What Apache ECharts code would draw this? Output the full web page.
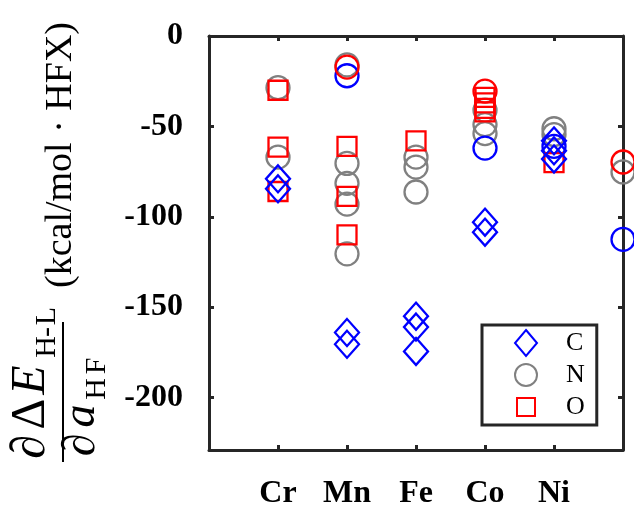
<!DOCTYPE html>
<html><head><meta charset="utf-8">
<script src="https://cdn.jsdelivr.net/npm/echarts@6/dist/echarts.min.js"></script>
<style>html,body{margin:0;padding:0;background:#fff}#c{width:634px;height:506px}</style>
</head><body><div id="c"></div>
<script>
// ---- data ----
const categories = ['Cr', 'Mn', 'Fe', 'Co', 'Ni'];
const yTicks = [0, -50, -100, -150, -200];
// [category position, value]; position 6 is the (unlabelled) right edge
const cDiamond = [[1,-79],[1,-84.5],[2,-164],[2,-170.5],[3,-155],[3,-161],[3,-174.5],[4,-103],[4,-108.5],[5,-58],[5,-63.5],[5,-68]];
const cCircle  = [[2,-22],[4,-62],[5,-61],[6,-112.5]];
const nCircle  = [[1,-28.6],[1,-67],[2,-16],[2,-70.5],[2,-81.5],[2,-93],[2,-120.5],[3,-67],[3,-72.5],[3,-86.3],[4,-41],[4,-49],[4,-54],[5,-51.3],[5,-54.5],[6,-75.2]];
const oSquare  = [[1,-30],[1,-61.5],[1,-86],[2,-61],[2,-88.7],[2,-110],[3,-58],[4,-34],[4,-37],[4,-40],[4,-42],[5,-70]];
const oCircle  = [[2,-17.2],[4,-30.5],[6,-69.7]];

const BLUE = '#0000ff', GRAY = '#808080', RED = '#ff0000', AX = '#262626';
const SERIF = '"Liberation Serif", "Times New Roman", serif';
const LW = 2.3;

function sc(name, data, symbol, size, color, z) {
  return { name, type: 'scatter', data, symbol, symbolSize: size, clip: false, z: z,
    itemStyle: { color: 'rgba(0,0,0,0)', borderColor: color, borderWidth: LW, opacity: 1 },
    emphasis: { disabled: true } };
}

const chart = echarts.init(document.getElementById('c'));
const axisCommon = {
  axisLine: { show: true, onZero: false, lineStyle: { color: AX, width: 3 } },
  axisTick: { show: true, inside: true, length: 5, lineStyle: { color: AX, width: 3 } },
  splitLine: { show: false }
};
function withTicks(base, vals) {
  return Object.assign(base, axisCommon, { axisTick: Object.assign({}, axisCommon.axisTick, { customValues: vals }) });
}
const xPos = [1, 2, 3, 4, 5];

// glyph helper for the y-axis title (rotated, reading bottom to top)
function glyph(t, x, y, size, italic) {
  return { type: 'text', x: x, y: y, rotation: Math.PI / 2,
    style: { text: t, align: 'center', verticalAlign: 'middle', fill: '#000', fontFamily: SERIF,
      fontSize: size, fontStyle: italic ? 'italic' : 'normal' } };
}

chart.setOption({
  animation: false,
  backgroundColor: '#fff',
  grid: { left: 209, right: 11, top: 36, bottom: 56, containLabel: false, outerBoundsMode: 'none' },
  xAxis: [
    withTicks({ type: 'value', min: 0, max: 6, interval: 1, position: 'bottom',
      axisLabel: { margin: 28, fontFamily: SERIF, fontWeight: 'bold', fontSize: 32, color: '#000',
        customValues: xPos, formatter: v => categories[v - 1] || '' } }, xPos),
    withTicks({ type: 'value', min: 0, max: 6, interval: 1, position: 'top', axisLabel: { show: false } }, xPos)
  ],
  yAxis: [
    withTicks({ type: 'value', min: -229, max: 0, position: 'left',
      axisLabel: { margin: 26, fontFamily: SERIF, fontWeight: 'bold', fontSize: 32, color: '#000', customValues: yTicks } }, yTicks),
    withTicks({ type: 'value', min: -229, max: 0, position: 'right', axisLabel: { show: false } }, yTicks)
  ],
  legend: {
    orient: 'vertical', left: 482, top: 325,
    data: [
      { name: 'C', icon: 'path://M0 0M26 28M13 1L24 14L13 27L2 14Z' },
      { name: 'N', icon: 'path://M0 0M26 28M24 14A11 11 0 1 1 2 14A11 11 0 1 1 24 14Z' },
      { name: 'O', icon: 'path://M0 0M26 28M4 5H22V23H4Z' }
    ],
    itemWidth: 26, itemHeight: 28, itemGap: 2, itemTextGap: 5,
    padding: [3, 12, 3, 30],
    borderColor: AX, borderWidth: 3, backgroundColor: '#fff',
    textStyle: { fontFamily: SERIF, fontSize: 26, color: '#000', padding: [0, 0, 0, 22] },
    selectedMode: false
  },
  series: [
    sc('N', nCircle, 'circle', 23, GRAY, 2),
    sc('Cc', cCircle, 'circle', 23, BLUE, 3),
    sc('Oc', oCircle, 'circle', 23, RED, 4),
    sc('O', oSquare, 'rect', 19, RED, 5),
    sc('C', cDiamond, 'diamond', [24, 27], BLUE, 6)
  ],
  graphic: [
    glyph('∂', 31, 447, 48, false),
    glyph('Δ', 31, 414, 48, false),
    glyph('E', 31, 380, 48, true),
    glyph('H', 47, 347, 30, false),
    glyph('-', 47, 332, 30, false),
    glyph('L', 47, 316, 30, false),
    { type: 'line', shape: { x1: 63, y1: 322, x2: 63, y2: 462 }, style: { stroke: '#000', lineWidth: 2 } },
    glyph('∂', 82, 445, 46, false),
    glyph('a', 82, 416, 46, true),
    glyph('H', 97, 389, 30, false),
    glyph('F', 97, 366, 30, false),
    { type: 'text', x: 61, y: 155, rotation: Math.PI / 2,
      style: { text: '(kcal/mol · HFX)', align: 'center', verticalAlign: 'middle', fill: '#000', fontFamily: SERIF, fontSize: 38 } }
  ]
});
</script></body></html>
